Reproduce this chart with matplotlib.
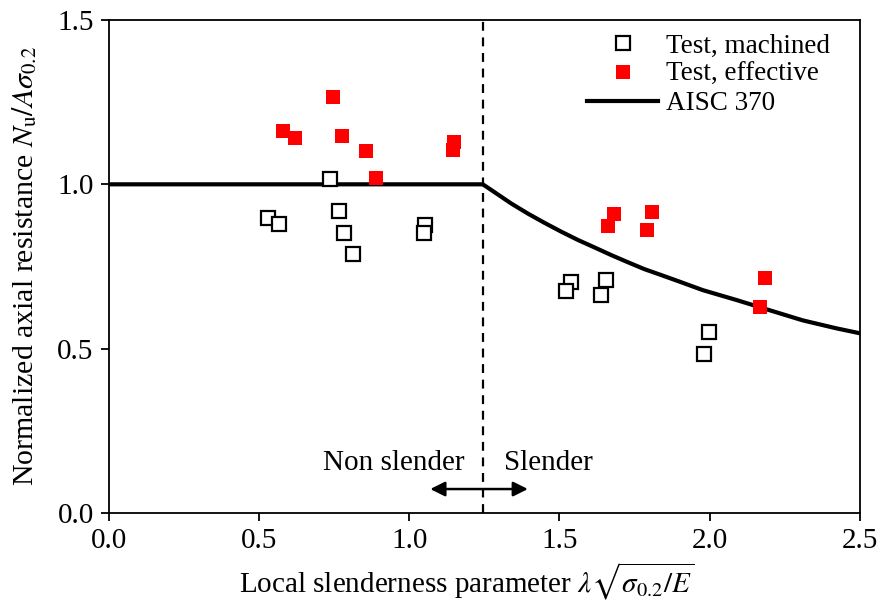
import numpy as np
import matplotlib.pyplot as plt

plt.rcParams['font.family'] = ['Liberation Serif', 'DejaVu Serif']
plt.rcParams['mathtext.fontset'] = 'stix'

# test results, machined section
mach_x = [0.530, 0.566, 0.737, 0.766, 0.782, 0.813, 1.052, 1.049,
          1.538, 1.521, 1.654, 1.639, 1.998, 1.982]
mach_y = [0.898, 0.880, 1.016, 0.920, 0.853, 0.788, 0.875, 0.851,
          0.702, 0.674, 0.709, 0.663, 0.552, 0.484]

# test results, effective section
eff_x = [0.747, 0.580, 0.619, 0.776, 0.856, 0.889, 1.149, 1.144,
         1.682, 1.663, 1.809, 1.791, 2.185, 2.168]
eff_y = [1.267, 1.163, 1.140, 1.147, 1.102, 1.019, 1.129, 1.104,
         0.909, 0.873, 0.917, 0.860, 0.716, 0.626]

# AISC 370 design curve
aisc_x = [0.0, 1.245, 1.284, 1.339, 1.395, 1.450, 1.506, 1.561, 1.617,
          1.672, 1.728, 1.783, 1.839, 1.894, 1.978, 2.090, 2.200,
          2.311, 2.422, 2.500]
aisc_y = [1.0, 1.000, 0.976, 0.942, 0.911, 0.883, 0.856, 0.831, 0.808,
          0.785, 0.763, 0.742, 0.724, 0.706, 0.678, 0.648, 0.617,
          0.586, 0.562, 0.547]

lim = 1.245  # slender limit

fig, ax = plt.subplots(figsize=(8.79, 6.05), dpi=100)
fig.subplots_adjust(left=0.124, right=0.978, top=0.967, bottom=0.152)

ax.plot(mach_x, mach_y, 's', ms=9.5, mfc='white', mec='black', mew=1.6,
        ls='none', label='Test, machined', zorder=3)
ax.plot(eff_x, eff_y, 's', ms=10.5, mfc='red', mec='red', mew=0,
        ls='none', label='Test, effective', zorder=4)
ax.plot(aisc_x, aisc_y, '-', color='black', lw=3, label='AISC 370',
        zorder=2, solid_joinstyle='round')

ax.plot([lim, lim], [0, 1.5], color='black', lw=1.6, ls=(0, (4, 3)), zorder=1)

ax.annotate('', xy=(1.07, 0.073), xytext=(1.395, 0.073),
            arrowprops=dict(arrowstyle='<|-|>', color='black', lw=1.8,
                            mutation_scale=22, shrinkA=0, shrinkB=0))
ax.text(lim - 0.06, 0.153, 'Non slender', ha='right', va='center', fontsize=21)
ax.text(lim + 0.07, 0.153, 'Slender', ha='left', va='center', fontsize=21)

ax.set_xlim(0, 2.5)
ax.set_ylim(0, 1.5)
ax.set_xticks(np.arange(0, 2.51, 0.5))
ax.set_yticks(np.arange(0, 1.51, 0.5))
ax.xaxis.set_major_formatter(plt.FormatStrFormatter('%.1f'))
ax.yaxis.set_major_formatter(plt.FormatStrFormatter('%.1f'))
ax.tick_params(direction='out', length=6, width=1.3, labelsize=21, pad=5)
for s in ax.spines.values():
    s.set_linewidth(1.3)

ax.set_xlabel(r'Local slenderness parameter $\lambda\sqrt{\sigma_{0.2}/E}$',
              fontsize=21)
ax.xaxis.set_label_coords(0.477, -0.096, transform=ax.transAxes)
ax.set_ylabel(r'Normalized axial resistance $N_\mathrm{u}/A\sigma_{0.2}$',
              fontsize=21.5, labelpad=13)

ax.legend(loc='upper right', bbox_to_anchor=(0.993, 1.022), frameon=False,
          fontsize=19.5, handlelength=2.6, handletextpad=0.3, labelspacing=0.14)

fig.savefig('out.png', dpi=100)
